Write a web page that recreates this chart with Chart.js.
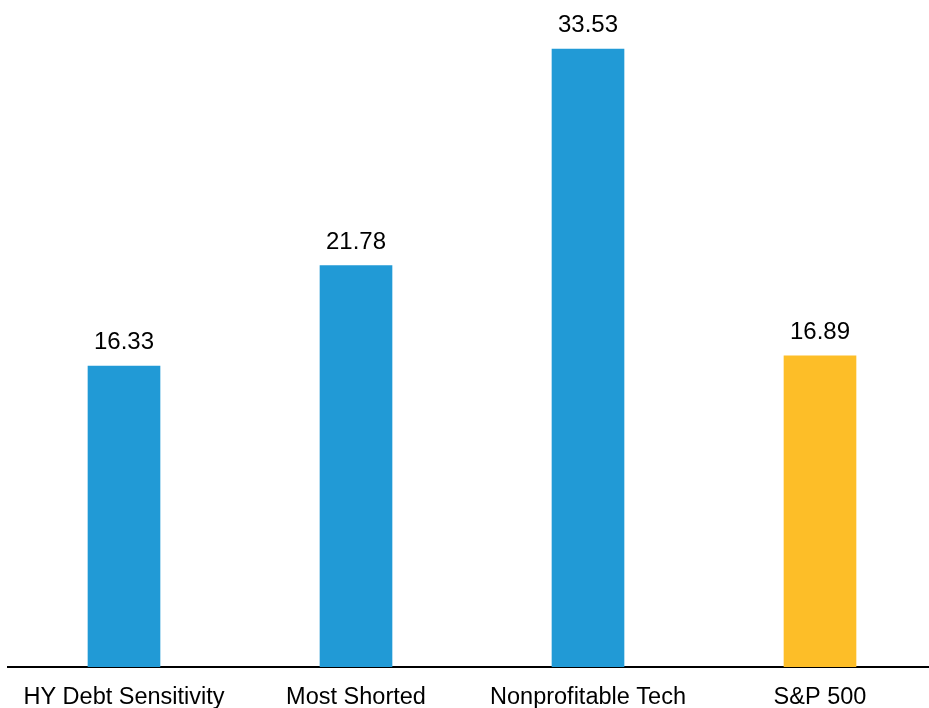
<!DOCTYPE html>
<html>
<head>
<meta charset="utf-8">
<script src="https://cdn.jsdelivr.net/npm/chart.js@4/dist/chart.umd.min.js"></script>
<style>
  html, body { margin: 0; padding: 0; overflow: hidden; background: #fff; width: 929px; height: 708px; }
  #wrap { width: 936px; height: 708px; }
</style>
</head>
<body>
<div id="wrap"><canvas id="c" width="936" height="708"></canvas></div>
<script>
const categories = ["HY Debt Sensitivity", "Most Shorted", "Nonprofitable Tech", "S&P 500"];
const values = [16.33, 21.78, 33.53, 16.89];
const barColors = ["#219AD6", "#219AD6", "#219AD6", "#FDBE28"];

const valueLabels = {
  id: 'valueLabels',
  afterDatasetsDraw(chart) {
    const ctx = chart.ctx;
    const meta = chart.getDatasetMeta(0);
    ctx.save();
    ctx.font = '24px "Liberation Sans", Arial, sans-serif';
    ctx.fillStyle = '#000';
    ctx.textAlign = 'center';
    ctx.textBaseline = 'alphabetic';
    meta.data.forEach((bar, i) => {
      ctx.fillText(values[i].toFixed(2), bar.x, bar.y - 17);
    });
    ctx.restore();
  }
};

new Chart(document.getElementById('c'), {
  type: 'bar',
  data: {
    labels: categories,
    datasets: [{
      data: values,
      backgroundColor: barColors,
      borderWidth: 0,
      barThickness: 72
    }]
  },
  options: {
    responsive: false,
    animation: false,
    layout: { padding: { left: 8, right: 0, top: 0, bottom: 0 } },
    plugins: { legend: { display: false }, tooltip: { enabled: false } },
    scales: {
      x: {
        grid: { display: false, drawTicks: false },
        border: { display: true, color: '#000', width: 2 },
        ticks: {
          color: '#000',
          padding: 16,
          maxRotation: 0,
          font: { family: '"Liberation Sans", Arial, sans-serif', size: 23.5 }
        },
        afterFit(scale) { scale.height = 41; }
      },
      y: {
        display: false,
        min: 0,
        max: 36.2
      }
    }
  },
  plugins: [valueLabels]
});
</script>
</body>
</html>
